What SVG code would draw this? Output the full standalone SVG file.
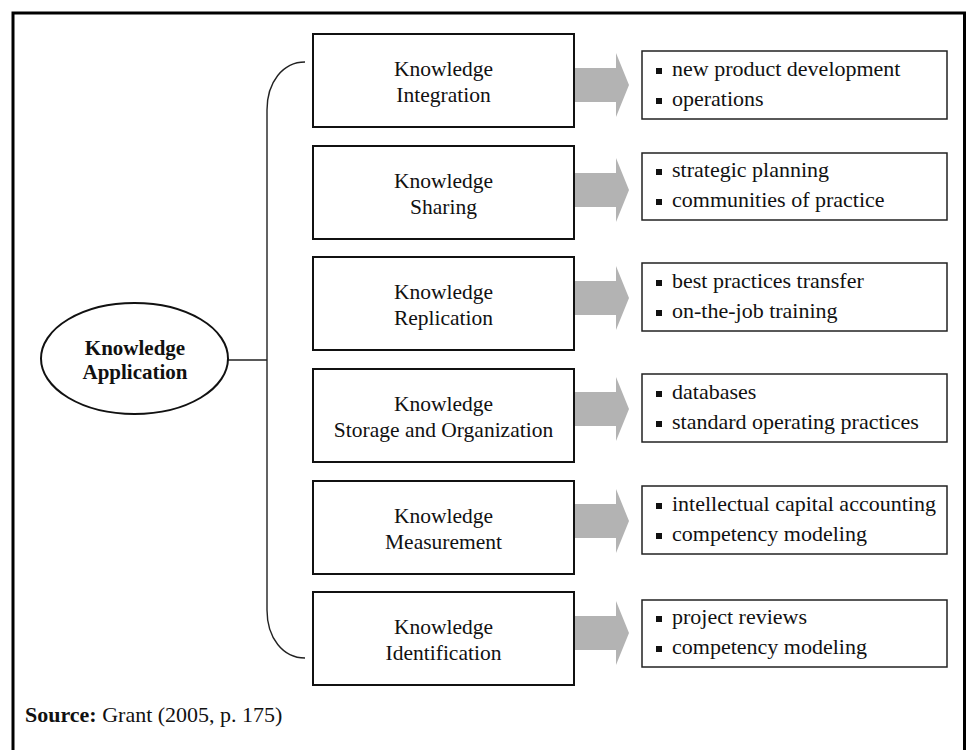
<svg xmlns="http://www.w3.org/2000/svg" width="969" height="750" viewBox="0 0 969 750">
  <defs>
    <style>
      .frame { fill: none; stroke: #000; stroke-width: 3; }
      .box { fill: #fff; stroke: #111; stroke-width: 2; }
      .list { fill: #fff; stroke: #222; stroke-width: 1.5; }
      .arrow { fill: #b3b3b3; stroke: none; }
      .link { fill: none; stroke: #222; stroke-width: 1.4; }
      .label { font-family: "Liberation Serif", "Times New Roman", serif; font-size: 21.5px; fill: #111; text-anchor: middle; }
      .item { font-family: "Liberation Serif", "Times New Roman", serif; font-size: 22px; fill: #111; }
      .hub { font-family: "Liberation Serif", "Times New Roman", serif; font-size: 21px; font-weight: bold; fill: #111; text-anchor: middle; }
      .bullet { fill: #111; }
      .src { font-family: "Liberation Serif", "Times New Roman", serif; font-size: 22px; fill: #111; }
    </style>
    <!-- block arrow pointing right; origin at the left end of its axis -->
    <path id="blockArrow" class="arrow" d="M0,-17 H42 V-32 L55,0 L42,32 V17 H0 Z"/>
    <rect id="dot" class="bullet" width="6" height="6"/>
  </defs>

  <rect width="969" height="750" fill="#fff"/>
  <path class="frame" d="M13,760 V13 H964.5 V760"/>

  <!-- brace joining the hub to the six activities -->
  <g id="connectors">
    <path class="link" d="M305,62 C283,62 267,82 267,110 V610 C267,638 283,658 305,658"/>
    <line class="link" x1="228" y1="360" x2="267" y2="360"/>
    <use href="#blockArrow" x="574" y="85"/>
    <use href="#blockArrow" x="574" y="190"/>
    <use href="#blockArrow" x="574" y="298"/>
    <use href="#blockArrow" x="574" y="409"/>
    <use href="#blockArrow" x="574" y="521"/>
    <use href="#blockArrow" x="574" y="633"/>
  </g>

  <g id="hub">
    <ellipse cx="134.5" cy="358.5" rx="93.5" ry="55.5" fill="#fff" stroke="#111" stroke-width="2"/>
    <text class="hub" x="135" y="355">Knowledge</text>
    <text class="hub" x="135" y="379">Application</text>
  </g>

  <g id="integration">
    <rect class="box" x="313" y="34" width="261" height="93"/>
    <text class="label" x="443.5" y="76">Knowledge</text>
    <text class="label" x="443.5" y="102">Integration</text>
  </g>
  <g id="sharing">
    <rect class="box" x="313" y="146" width="261" height="93"/>
    <text class="label" x="443.5" y="188">Knowledge</text>
    <text class="label" x="443.5" y="214">Sharing</text>
  </g>
  <g id="replication">
    <rect class="box" x="313" y="257" width="261" height="93"/>
    <text class="label" x="443.5" y="299">Knowledge</text>
    <text class="label" x="443.5" y="325">Replication</text>
  </g>
  <g id="storage">
    <rect class="box" x="313" y="369" width="261" height="93"/>
    <text class="label" x="443.5" y="411">Knowledge</text>
    <text class="label" x="443.5" y="437">Storage and Organization</text>
  </g>
  <g id="measurement">
    <rect class="box" x="313" y="481" width="261" height="93"/>
    <text class="label" x="443.5" y="523">Knowledge</text>
    <text class="label" x="443.5" y="549">Measurement</text>
  </g>
  <g id="identification">
    <rect class="box" x="313" y="592" width="261" height="93"/>
    <text class="label" x="443.5" y="634">Knowledge</text>
    <text class="label" x="443.5" y="660">Identification</text>
  </g>

  <g id="integration-uses">
    <rect class="list" x="642" y="51" width="305" height="68"/>
    <use href="#dot" x="656" y="68"/>
    <text class="item" x="672" y="76">new product development</text>
    <use href="#dot" x="656" y="98"/>
    <text class="item" x="672" y="106">operations</text>
  </g>
  <g id="sharing-uses">
    <rect class="list" x="642" y="153" width="305" height="67"/>
    <use href="#dot" x="656" y="169"/>
    <text class="item" x="672" y="177">strategic planning</text>
    <use href="#dot" x="656" y="199"/>
    <text class="item" x="672" y="207">communities of practice</text>
  </g>
  <g id="replication-uses">
    <rect class="list" x="642" y="263" width="305" height="68"/>
    <use href="#dot" x="656" y="280"/>
    <text class="item" x="672" y="288">best practices transfer</text>
    <use href="#dot" x="656" y="310"/>
    <text class="item" x="672" y="318">on-the-job training</text>
  </g>
  <g id="storage-uses">
    <rect class="list" x="642" y="374" width="305" height="68"/>
    <use href="#dot" x="656" y="391"/>
    <text class="item" x="672" y="399">databases</text>
    <use href="#dot" x="656" y="421"/>
    <text class="item" x="672" y="429">standard operating practices</text>
  </g>
  <g id="measurement-uses">
    <rect class="list" x="642" y="486" width="305" height="68"/>
    <use href="#dot" x="656" y="503"/>
    <text class="item" x="672" y="511">intellectual capital accounting</text>
    <use href="#dot" x="656" y="533"/>
    <text class="item" x="672" y="541">competency modeling</text>
  </g>
  <g id="identification-uses">
    <rect class="list" x="642" y="600" width="305" height="67"/>
    <use href="#dot" x="656" y="616"/>
    <text class="item" x="672" y="624">project reviews</text>
    <use href="#dot" x="656" y="646"/>
    <text class="item" x="672" y="654">competency modeling</text>
  </g>

  <text class="src" x="25" y="722"><tspan font-weight="bold">Source:</tspan> Grant (2005, p. 175)</text>
</svg>
